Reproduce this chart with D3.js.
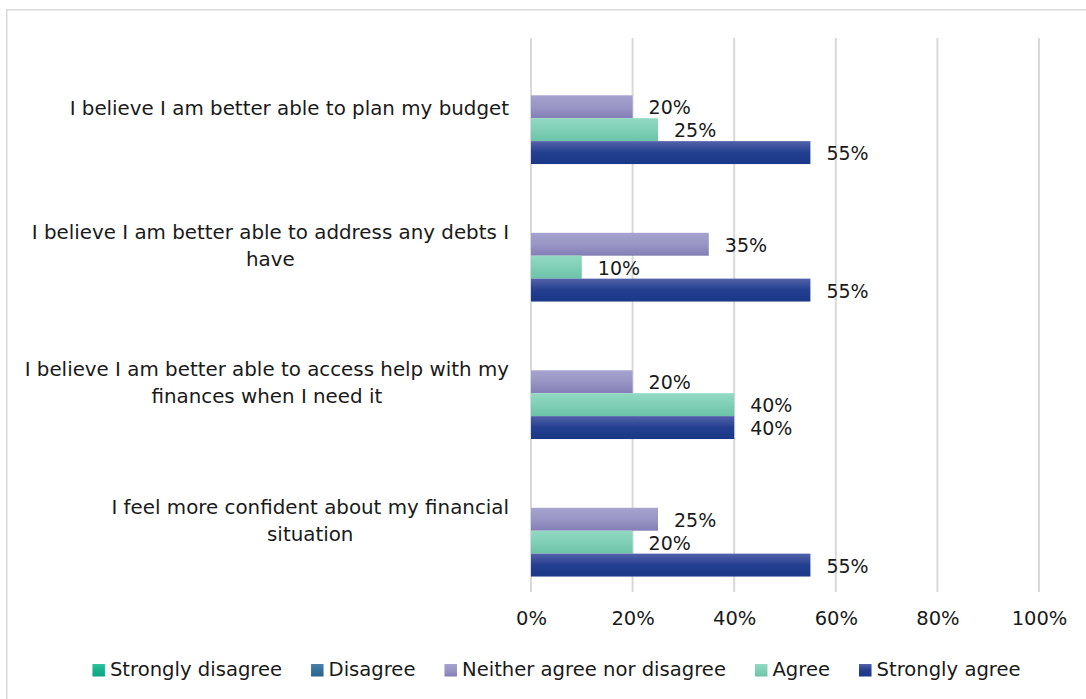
<!DOCTYPE html>
<html>
<head>
<meta charset="utf-8">
<script src="https://cdn.jsdelivr.net/npm/d3@7/dist/d3.min.js"></script>
<style>
  html, body { margin: 0; padding: 0; background: #ffffff; }
  svg { display: block; }
  text { font-family: "DejaVu Sans", "Liberation Sans", sans-serif; fill: #1a1a1a; }
</style>
</head>
<body>
<svg id="chart" width="1086" height="699"></svg>
<script>
// Survey statements (line breaks mark where each label wraps)
const categories = [
  "I believe I am better able to plan my budget",
  "I believe I am better able to address any debts I\nhave",
  "I believe I am better able to access help with my\nfinances when I need it",
  "I feel more confident about my financial\nsituation"
];

// Response options, in the order drawn within each group
const seriesNames = ["Strongly disagree", "Disagree", "Neither agree nor disagree", "Agree", "Strongly agree"];

// Share of respondents per statement
const stronglyDisagree = [0, 0, 0, 0];
const disagree         = [0, 0, 0, 0];
const neither          = [0.20, 0.35, 0.20, 0.25];
const agree            = [0.25, 0.10, 0.40, 0.20];
const stronglyAgree    = [0.55, 0.55, 0.40, 0.55];

// Axis ticks
const xTicks = [0, 0.2, 0.4, 0.6, 0.8, 1.0];

const seriesValues = [stronglyDisagree, disagree, neither, agree, stronglyAgree];

// Gradient colours per series: [top, middle, bottom]
const seriesColors = [
  ["#2ec29e", "#17b18e", "#0fa583"],
  ["#4b82aa", "#35719b", "#2a638d"],
  ["#a6a3d0", "#9995c4", "#837fb5"],
  ["#92d9c2", "#80cfb6", "#6bc3a8"],
  ["#5362aa", "#233f8f", "#1a3788"]
];

const svg = d3.select("#chart");
const fmt = d3.format(".0%");

// Outer chart frame
svg.append("rect")
  .attr("x", 6.75).attr("y", 9.75)
  .attr("width", 1200).attr("height", 800)
  .attr("fill", "none")
  .attr("stroke", "#d9d9d9")
  .attr("stroke-width", 1.5);

// Gradients
const defs = svg.append("defs");
seriesColors.forEach((c, i) => {
  const g = defs.append("linearGradient")
    .attr("id", "grad" + i)
    .attr("x1", 0).attr("y1", 0).attr("x2", 0).attr("y2", 1);
  g.append("stop").attr("offset", "0%").attr("stop-color", c[0]);
  g.append("stop").attr("offset", "50%").attr("stop-color", c[1]);
  g.append("stop").attr("offset", "100%").attr("stop-color", c[2]);
});

// Scales
const x = d3.scaleLinear().domain([0, 1]).range([531, 1039]);
const y = d3.scaleBand().domain(categories).range([38, 588])
  .paddingInner(1 / 6).paddingOuter(1 / 12);
const ySeries = d3.scaleBand().domain(seriesNames).range([0, y.bandwidth()]);

// Vertical gridlines
svg.append("g")
  .selectAll("line")
  .data(xTicks)
  .join("line")
  .attr("x1", d => x(d)).attr("x2", d => x(d))
  .attr("y1", 38).attr("y2", 592)
  .attr("stroke", "#d9d9d9")
  .attr("stroke-width", 2);

// Bottom axis labels
const xAxis = d3.axisBottom(x).tickValues(xTicks).tickFormat(fmt).tickSize(0).tickPadding(0);
const axisG = svg.append("g").attr("transform", "translate(0,611)").call(xAxis);
axisG.select(".domain").remove();
axisG.selectAll("text")
  .attr("dy", null)
  .attr("y", 14)
  .attr("font-size", 19.5)
  .attr("fill", "#1a1a1a")
  .attr("font-family", "DejaVu Sans, Liberation Sans, sans-serif");

// Bars and value labels
const groups = svg.append("g")
  .selectAll("g")
  .data(categories)
  .join("g")
  .attr("transform", d => `translate(0,${y(d)})`);

groups.each(function (cat, ci) {
  const g = d3.select(this);
  const rows = seriesNames.map((name, si) => ({ name, si, value: seriesValues[si][ci] }));
  g.selectAll("rect")
    .data(rows)
    .join("rect")
    .attr("x", x(0))
    .attr("y", d => ySeries(d.name))
    .attr("width", d => x(d.value) - x(0))
    .attr("height", ySeries.bandwidth())
    .attr("fill", d => `url(#grad${d.si})`);
  g.selectAll("text")
    .data(rows.filter(d => d.value > 0))
    .join("text")
    .attr("x", d => x(d.value) + 16)
    .attr("y", d => ySeries(d.name) + ySeries.bandwidth() / 2 + 7.5)
    .attr("font-size", 19)
    .text(d => fmt(d.value));
});

// Category labels: lines centred within a block whose right edge sits left of the axis
const labelRight = 509;
const lineHeight = 27;
categories.forEach(cat => {
  const lines = cat.split("\n");
  const cy = y(cat) + y.bandwidth() / 2;
  const t = svg.append("text").attr("font-size", 19.85).attr("text-anchor", "middle");
  const spans = lines.map((ln, i) =>
    t.append("tspan")
      .attr("y", cy + 8 + (i - (lines.length - 1) / 2) * lineHeight)
      .text(ln));
  const maxW = d3.max(spans, s => s.node().getComputedTextLength());
  spans.forEach(s => s.attr("x", labelRight - maxW / 2));
});

// Legend
const legend = svg.append("g");
const items = legend.selectAll("g")
  .data(seriesNames)
  .join("g");
items.append("rect")
  .attr("y", 664)
  .attr("width", 12.5).attr("height", 12.5)
  .attr("fill", (d, i) => `url(#grad${i})`);
items.append("text")
  .attr("x", 17.5)
  .attr("y", 676)
  .attr("font-size", 19.6)
  .text(d => d);
let cursor = 0;
const offsets = [];
items.each(function () {
  offsets.push(cursor);
  const w = d3.select(this).select("text").node().getComputedTextLength();
  cursor += 17.5 + w + 29;
});
const totalW = cursor - 29;
const startX = 556.5 - totalW / 2;
items.attr("transform", (d, i) => `translate(${startX + offsets[i]},0)`);
</script>
</body>
</html>
